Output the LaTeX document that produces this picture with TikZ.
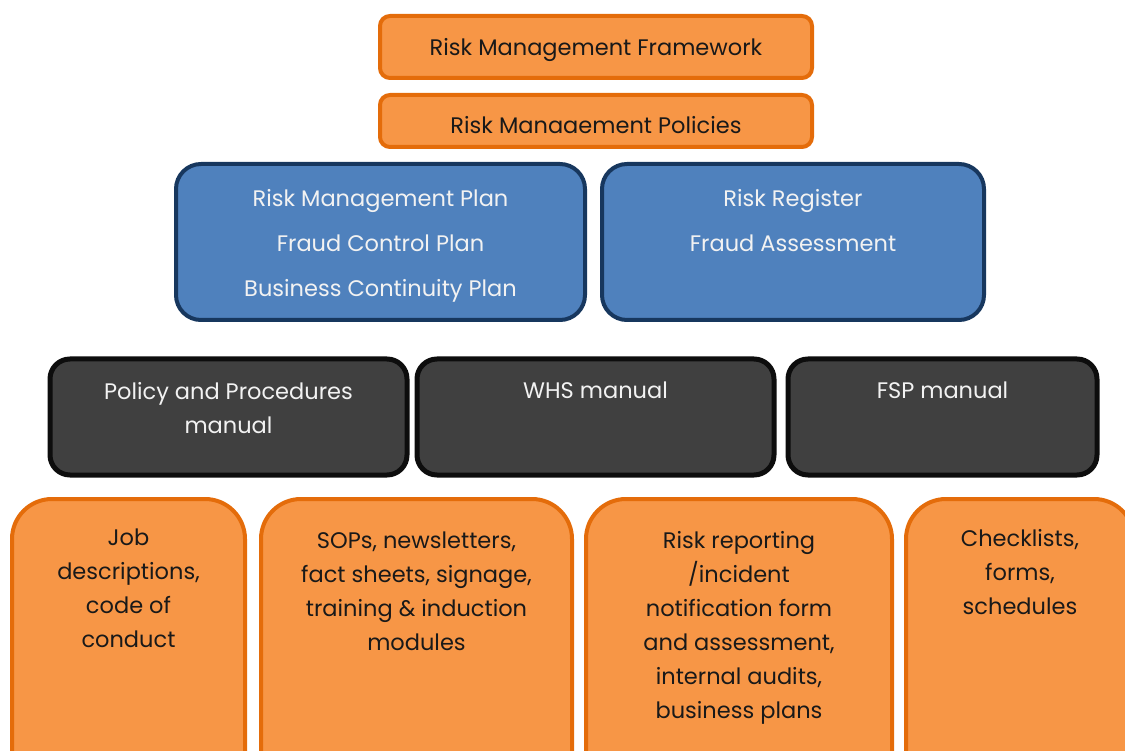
\documentclass[tikz,border=0pt]{standalone}
\usepackage{fontspec}
\setmainfont{Poppins}
\usetikzlibrary{positioning}
\definecolor{orangefill}{HTML}{F79646}
\definecolor{orangeline}{HTML}{E46C0A}
\definecolor{bluefill}{HTML}{4F81BD}
\definecolor{blueline}{HTML}{17375E}
\definecolor{darkfill}{HTML}{404040}
\definecolor{darkline}{HTML}{0D0D0D}
% box text: width, height, top gap, lines
\newcommand{\boxtext}[4]{\begin{minipage}[t][#2][t]{#1}\centering\vspace*{#3}#4\end{minipage}}
% one line, shifted down inside its own box
\newcommand{\lowtext}[2]{\raisebox{-#1}[\height][\depth]{#2}}

\begin{document}
\begin{tikzpicture}[x=1pt, y=-1pt, font=\fontsize{22.5}{34}\selectfont]
			\tikzstyle{base} = [inner sep=0pt, outer sep=0pt, align=center]
			\tikzstyle{headbox} = [base, draw=orangeline, fill=orangefill, line width=4pt, rounded corners=10pt, text=black!90]
			\tikzstyle{planbox} = [base, draw=blueline, fill=bluefill, line width=4pt, rounded corners=25pt, text=white!95!black]
			\tikzstyle{manualbox} = [base, draw=darkline, fill=darkfill, line width=5pt, rounded corners=20pt, text=white!95!black]
			\tikzstyle{toolbox} = [base, draw=orangeline, fill=orangefill, line width=4pt, rounded corners=40pt, text=black!90]
			\useasboundingbox (0,0) rectangle (1125,751);
			\clip (0,0) rectangle (1125,751);
			% top
			\node[headbox, minimum width=432pt, minimum height=62pt] (framework) at (596,47) {\lowtext{3pt}{Risk Management Framework}};
			\node[headbox, minimum width=432pt, minimum height=52pt, below=17pt of framework] (policies) {\lowtext{4pt}{Risk Manaaement Policies}};
			% plans
			\node[planbox, minimum width=409pt, minimum height=156pt] (plans) at (380.5,242) {\boxtext{409pt}{156pt}{25pt}{Risk Management Plan\\[11pt]Fraud Control Plan\\[11pt]Business Continuity Plan}};
			\node[planbox, minimum width=382pt, minimum height=156pt] (register) at (793,242) {\boxtext{382pt}{156pt}{25pt}{Risk Register\\[11pt]Fraud Assessment}};
			% manuals
			\node[manualbox, minimum width=357pt, minimum height=116pt] (procedures) at (228.5,417) {\boxtext{357pt}{116pt}{23pt}{Policy and Procedures\\manual}};
			\node[manualbox, minimum width=357pt, minimum height=116pt] (whs) at (595.5,417) {\boxtext{357pt}{116pt}{23pt}{WHS manual}};
			\node[manualbox, minimum width=309pt, minimum height=116pt] (fsp) at (942.5,417) {\boxtext{309pt}{116pt}{23pt}{FSP manual}};
			% tools
			\node[toolbox, minimum width=233pt, minimum height=300pt] (job) at (128.5,649) {\boxtext{233pt}{300pt}{30pt}{Job\\descriptions,\\code of\\conduct}};
			\node[toolbox, minimum width=311pt, minimum height=300pt] (sops) at (416.5,649) {\boxtext{311pt}{300pt}{33pt}{SOPs, newsletters,\\fact sheets, signage,\\training \& induction\\modules}};
			\node[toolbox, minimum width=306pt, minimum height=300pt] (reporting) at (739,649) {\boxtext{306pt}{300pt}{32pt}{Risk reporting\\/incident\\notification form\\and assessment,\\internal audits,\\business plans}};
			\node[toolbox, minimum width=228pt, minimum height=300pt] (checklists) at (1020,649) {\boxtext{228pt}{300pt}{30pt}{Checklists,\\forms,\\schedules}};
\end{tikzpicture}
\end{document}
